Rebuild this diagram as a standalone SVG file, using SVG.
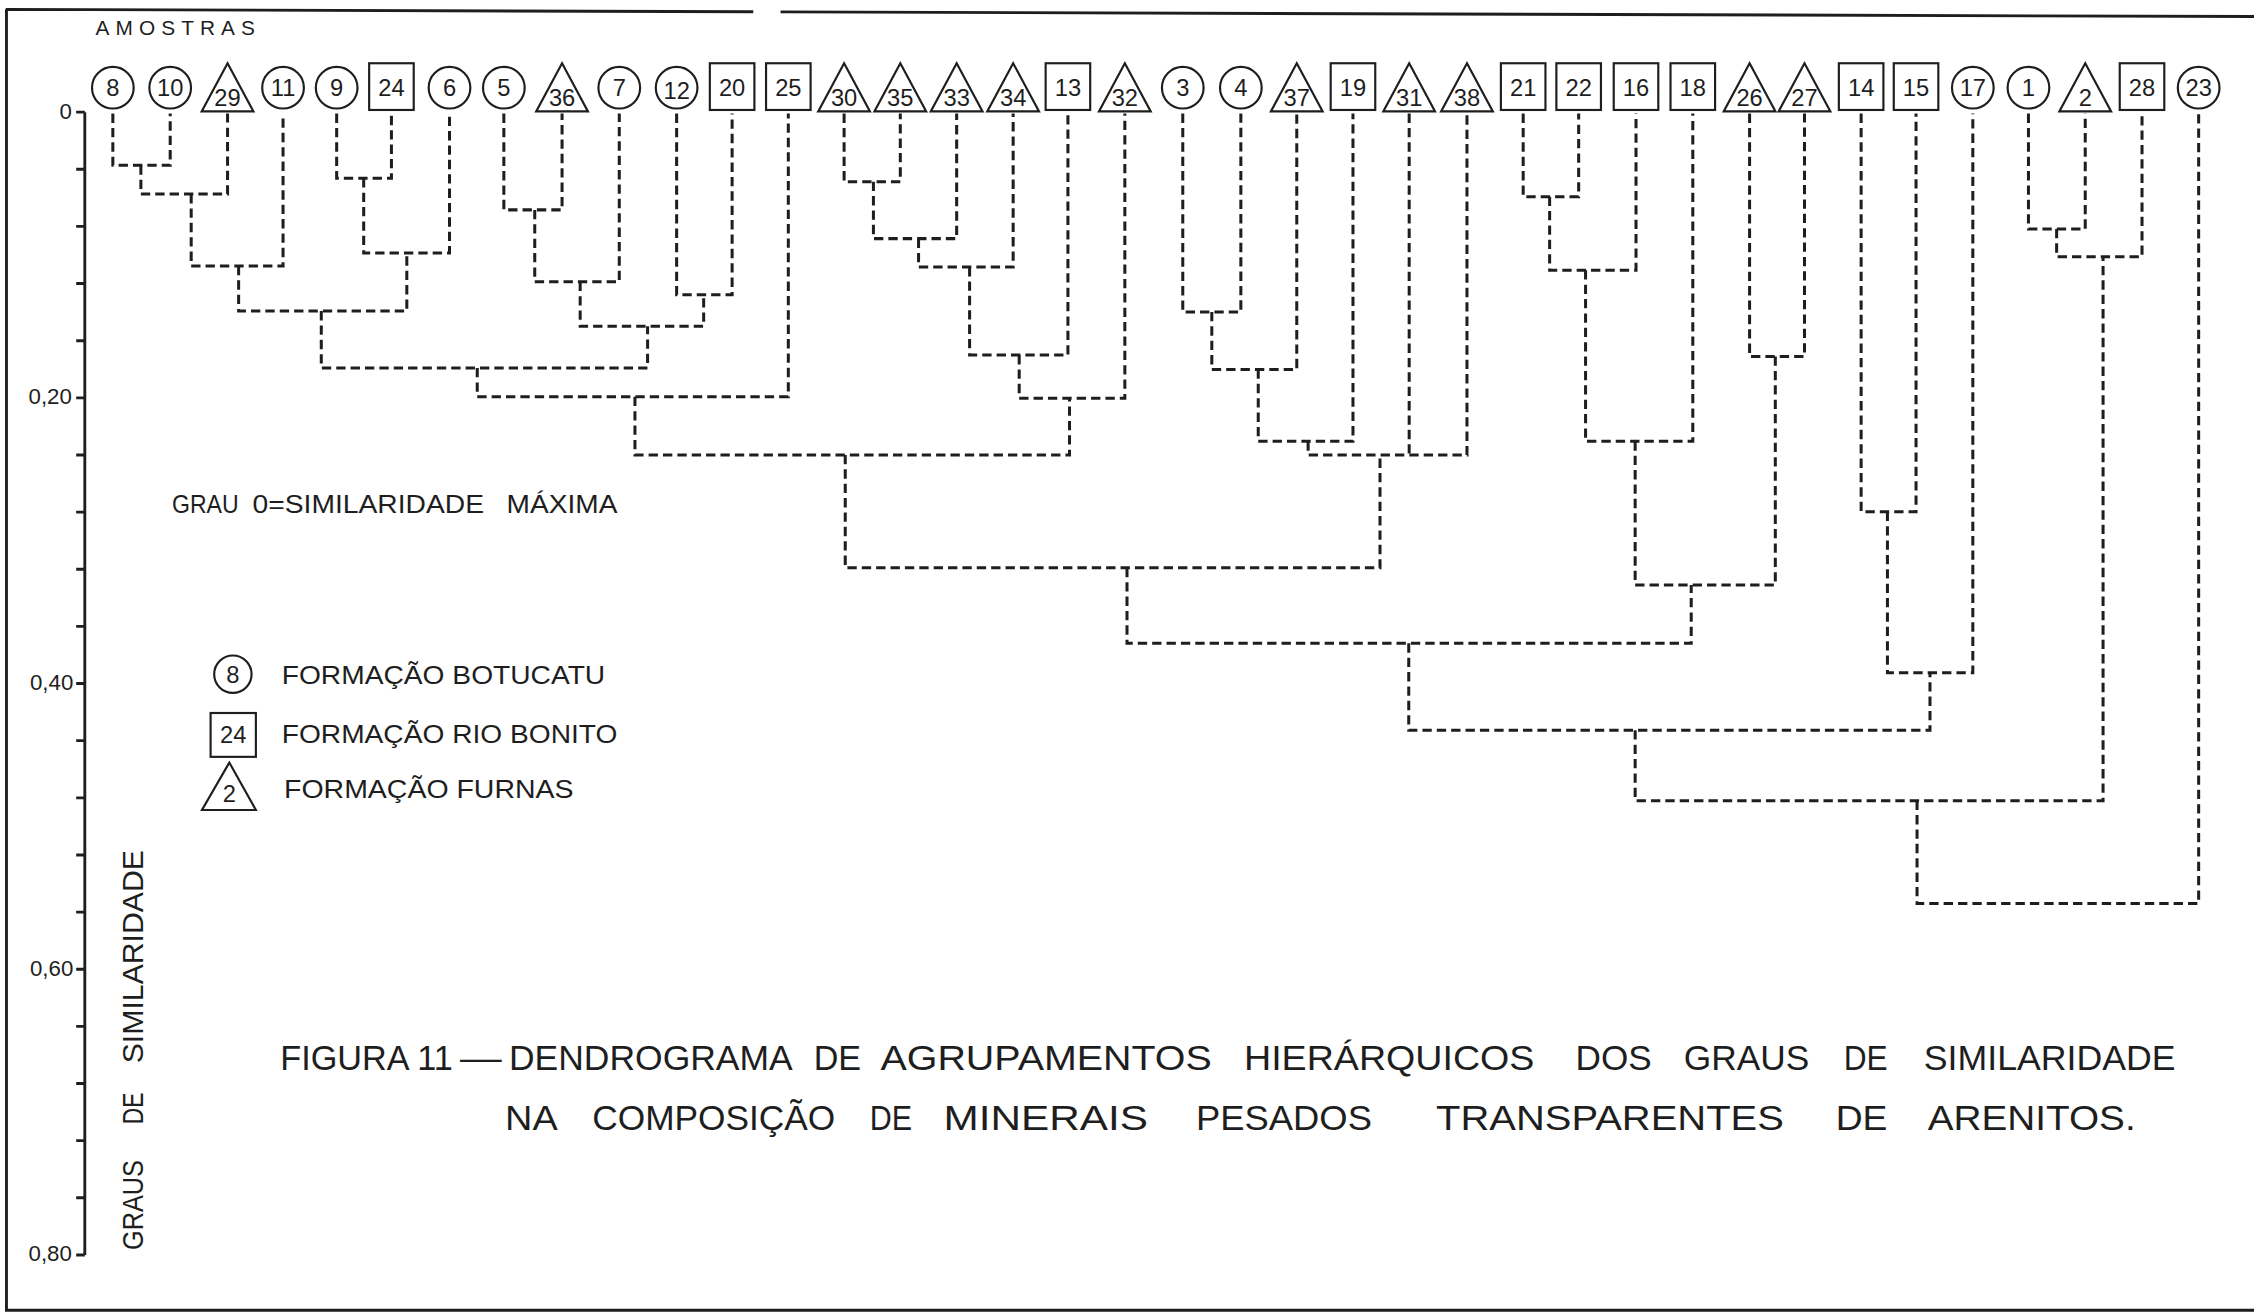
<svg xmlns="http://www.w3.org/2000/svg" xmlns:xlink="http://www.w3.org/1999/xlink" width="2254" height="1314" viewBox="0 0 2254 1314">
<style>
.d{font-family:"Liberation Sans",Arial,sans-serif;font-size:16.5px;text-anchor:middle;fill:#1e1e1e}
.lab{font-family:"Liberation Sans",Arial,sans-serif;fill:#1e1e1e}
.ln{fill:none;stroke:#1e1e1e;stroke-width:2.1;stroke-dasharray:6.5 3.5}
.solid{fill:none;stroke:#1e1e1e;stroke-width:2}
.shape{fill:#fff;stroke:#1e1e1e;stroke-width:1.5}
</style>
<defs>
<circle id="C" cx="0" cy="61" r="14.5" fill="#fff" stroke="#1e1e1e" stroke-width="1.5"/>
<rect id="S" x="-15.5" y="44" width="31" height="32.5" fill="#fff" stroke="#1e1e1e" stroke-width="1.5"/>
<path id="T" d="M0,44 L18,77.5 L-18,77.5 Z" fill="#fff" stroke="#1e1e1e" stroke-width="1.5" stroke-linejoin="miter"/>
</defs>
<rect x="0" y="0" width="2254" height="1314" fill="#fff"/>
<g transform="scale(1.4375)">
<g id="frame">
<path class="solid" d="M4,6.5 L524,8.2 M543,8.3 L1568,11.5 M4.5,6.5 V911.5 H1568" stroke-width="2.4"/>
</g>
<g id="axis">
<path class="solid" d="M59,78 V873 M53,78 H59 M53,117.75 H59 M53,157.5 H59 M53,197.25 H59 M53,237 H59 M53,276.75 H59 M53,316.5 H59 M53,356.25 H59 M53,396 H59 M53,435.75 H59 M53,475.5 H59 M53,515.25 H59 M53,555 H59 M53,594.75 H59 M53,634.5 H59 M53,674.25 H59 M53,714 H59 M53,753.75 H59 M53,793.5 H59 M53,833.25 H59 M53,873 H59"/>
<text class="lab" font-size="15.5" text-anchor="end" x="50" y="83">0</text>
<text class="lab" font-size="15.5" text-anchor="end" x="50" y="281">0,20</text>
<text class="lab" font-size="15.5" text-anchor="end" x="51" y="480">0,40</text>
<text class="lab" font-size="15.5" text-anchor="end" x="51" y="679">0,60</text>
<text class="lab" font-size="15.5" text-anchor="end" x="50" y="877">0,80</text>
<text class="lab" font-size="21" transform="translate(99.5,0) rotate(-90)"><tspan x="-869.6" y="0" textLength="62.6" lengthAdjust="spacingAndGlyphs">GRAUS</tspan> <tspan x="-782" y="0" textLength="22" lengthAdjust="spacingAndGlyphs">DE</tspan> <tspan x="-739.7" y="0" textLength="148.4" lengthAdjust="spacingAndGlyphs">SIMILARIDADE</tspan></text>
</g>
<text id="amostras" class="lab" font-size="14.5" x="66.4" y="24.3" textLength="111" lengthAdjust="spacing">AMOSTRAS</text>
<g id="connectors">
<path class="ln" d="M78.5,79 V115 H118.4 V79"/>
<path class="ln" d="M98,115 V135 H158.3 V79"/>
<path class="ln" d="M133,135 V185 H196.9 V79"/>
<path class="ln" d="M234.2,79 V124 H272.3 V79"/>
<path class="ln" d="M253,124 V176 H312.7 V79"/>
<path class="ln" d="M166,185 V216.4 H283 V176"/>
<path class="ln" d="M350.5,79 V146 H391 V79"/>
<path class="ln" d="M372,146 V196 H430.8 V79"/>
<path class="ln" d="M470.7,79 V205 H509.3 V79"/>
<path class="ln" d="M403.6,196 V227 H489.5 V205"/>
<path class="ln" d="M223.5,216.4 V256 H450.5 V227"/>
<path class="ln" d="M332,256 V276 H548.4 V79"/>
<path class="ln" d="M587.2,79 V126.4 H626.3 V79"/>
<path class="ln" d="M607.6,126.4 V166 H665.5 V79"/>
<path class="ln" d="M639,166 V185.8 H704.8 V79"/>
<path class="ln" d="M674.5,185.8 V247 H742.9 V79"/>
<path class="ln" d="M709,247 V277 H782.5 V79"/>
<path class="ln" d="M441.7,276 V316.5 H744 V277"/>
<path class="ln" d="M822.8,79 V217 H863.2 V79"/>
<path class="ln" d="M843,217 V257 H902.1 V79"/>
<path class="ln" d="M875.3,257 V307 H941.2 V79"/>
<path class="ln" d="M910,307 V316.6 H1020.5 V79"/>
<path class="ln" d="M980.3,79 V316.6"/>
<path class="ln" d="M588,316.5 V395 H960 V316.6"/>
<path class="ln" d="M1059.6,79 V136.8 H1098.2 V79"/>
<path class="ln" d="M1078,136.8 V188 H1138.1 V79"/>
<path class="ln" d="M1103,188 V307 H1177.6 V79"/>
<path class="ln" d="M1217.1,79 V248 H1255.3 V79"/>
<path class="ln" d="M1137.5,307 V407 H1235 V248"/>
<path class="ln" d="M784,395 V447.5 H1176.5 V407"/>
<path class="ln" d="M1294.7,79 V356 H1332.9 V79"/>
<path class="ln" d="M1313,356 V468 H1372.4 V79"/>
<path class="ln" d="M980,447.5 V508 H1342.6 V468"/>
<path class="ln" d="M1411.1,79 V159.3 H1450.6 V79"/>
<path class="ln" d="M1430.7,159.3 V178.6 H1490.1 V79"/>
<path class="ln" d="M1137.5,508 V557 H1463 V178.6"/>
<path class="ln" d="M1333.6,557 V628.5 H1529.5 V79"/>
</g>
<g id="nodes">
<g id="n8" transform="translate(78.5,0)"><use href="#C"/><text class="d" y="67">8</text></g>
<g id="n10" transform="translate(118.4,0)"><use href="#C"/><text class="d" y="67">10</text></g>
<g id="n29" transform="translate(158.3,0)"><use href="#T"/><text class="d" y="73.5">29</text></g>
<g id="n11" transform="translate(196.9,0)"><use href="#C"/><text class="d" y="67">11</text></g>
<g id="n9" transform="translate(234.2,0)"><use href="#C"/><text class="d" y="67">9</text></g>
<g id="n24" transform="translate(272.3,0)"><use href="#S"/><text class="d" y="66.5">24</text></g>
<g id="n6" transform="translate(312.7,0)"><use href="#C"/><text class="d" y="67">6</text></g>
<g id="n5" transform="translate(350.5,0)"><use href="#C"/><text class="d" y="67">5</text></g>
<g id="n36" transform="translate(391,0)"><use href="#T"/><text class="d" y="73.5">36</text></g>
<g id="n7" transform="translate(430.8,0)"><use href="#C"/><text class="d" y="67">7</text></g>
<g id="n12" transform="translate(470.7,0)"><use href="#C"/><text class="d" y="69">12</text></g>
<g id="n20" transform="translate(509.3,0)"><use href="#S"/><text class="d" y="66.5">20</text></g>
<g id="n25" transform="translate(548.4,0)"><use href="#S"/><text class="d" y="66.5">25</text></g>
<g id="n30" transform="translate(587.2,0)"><use href="#T"/><text class="d" y="73.5">30</text></g>
<g id="n35" transform="translate(626.3,0)"><use href="#T"/><text class="d" y="73.5">35</text></g>
<g id="n33" transform="translate(665.5,0)"><use href="#T"/><text class="d" y="73.5">33</text></g>
<g id="n34" transform="translate(704.8,0)"><use href="#T"/><text class="d" y="73.5">34</text></g>
<g id="n13" transform="translate(742.9,0)"><use href="#S"/><text class="d" y="66.5">13</text></g>
<g id="n32" transform="translate(782.5,0)"><use href="#T"/><text class="d" y="73.5">32</text></g>
<g id="n3" transform="translate(822.8,0)"><use href="#C"/><text class="d" y="67">3</text></g>
<g id="n4" transform="translate(863.2,0)"><use href="#C"/><text class="d" y="67">4</text></g>
<g id="n37" transform="translate(902.1,0)"><use href="#T"/><text class="d" y="73.5">37</text></g>
<g id="n19" transform="translate(941.2,0)"><use href="#S"/><text class="d" y="66.5">19</text></g>
<g id="n31" transform="translate(980.3,0)"><use href="#T"/><text class="d" y="73.5">31</text></g>
<g id="n38" transform="translate(1020.5,0)"><use href="#T"/><text class="d" y="73.5">38</text></g>
<g id="n21" transform="translate(1059.6,0)"><use href="#S"/><text class="d" y="66.5">21</text></g>
<g id="n22" transform="translate(1098.2,0)"><use href="#S"/><text class="d" y="66.5">22</text></g>
<g id="n16" transform="translate(1138.1,0)"><use href="#S"/><text class="d" y="66.5">16</text></g>
<g id="n18" transform="translate(1177.6,0)"><use href="#S"/><text class="d" y="66.5">18</text></g>
<g id="n26" transform="translate(1217.1,0)"><use href="#T"/><text class="d" y="73.5">26</text></g>
<g id="n27" transform="translate(1255.3,0)"><use href="#T"/><text class="d" y="73.5">27</text></g>
<g id="n14" transform="translate(1294.7,0)"><use href="#S"/><text class="d" y="66.5">14</text></g>
<g id="n15" transform="translate(1332.9,0)"><use href="#S"/><text class="d" y="66.5">15</text></g>
<g id="n17" transform="translate(1372.4,0)"><use href="#C"/><text class="d" y="67">17</text></g>
<g id="n1" transform="translate(1411.1,0)"><use href="#C"/><text class="d" y="67">1</text></g>
<g id="n2" transform="translate(1450.6,0)"><use href="#T"/><text class="d" y="73.5">2</text></g>
<g id="n28" transform="translate(1490.1,0)"><use href="#S"/><text class="d" y="66.5">28</text></g>
<g id="n23" transform="translate(1529.5,0)"><use href="#C"/><text class="d" y="67">23</text></g>
</g>
<text id="grau-note" class="lab" font-size="18" y="357"><tspan x="119.6" textLength="46.4" lengthAdjust="spacingAndGlyphs">GRAU</tspan> <tspan x="175.7" textLength="161" lengthAdjust="spacingAndGlyphs">0=SIMILARIDADE</tspan> <tspan x="352.4" textLength="77.1" lengthAdjust="spacingAndGlyphs">MÁXIMA</tspan></text>
<g id="legend">
<g id="leg-botucatu"><circle class="shape" cx="162" cy="469" r="13"/><text class="d" x="162" y="475" font-size="16">8</text>
<text class="lab" font-size="18" x="196" y="476" textLength="225" lengthAdjust="spacingAndGlyphs">FORMAÇÃO BOTUCATU</text></g>
<g id="leg-riobonito"><rect class="shape" x="146.5" y="496" width="31.5" height="30.5"/><text class="d" x="162.2" y="517" font-size="16">24</text>
<text class="lab" font-size="18" x="196" y="517" textLength="233.5" lengthAdjust="spacingAndGlyphs">FORMAÇÃO RIO BONITO</text></g>
<g id="leg-furnas"><path class="shape" d="M159.5,530.5 L178,563.5 L140.5,563.5 Z"/><text class="d" x="159.5" y="558" font-size="16">2</text>
<text class="lab" font-size="18" x="197.6" y="555" textLength="201.4" lengthAdjust="spacingAndGlyphs">FORMAÇÃO FURNAS</text></g>
</g>
<g id="caption">
<text class="lab" font-size="24" y="744"><tspan x="195" textLength="120" lengthAdjust="spacingAndGlyphs">FIGURA 11</tspan> <tspan x="320" textLength="29" lengthAdjust="spacingAndGlyphs">—</tspan> <tspan x="354" textLength="197.5" lengthAdjust="spacingAndGlyphs">DENDROGRAMA</tspan> <tspan x="566" textLength="33" lengthAdjust="spacingAndGlyphs">DE</tspan> <tspan x="612.5" textLength="230.5" lengthAdjust="spacingAndGlyphs">AGRUPAMENTOS</tspan> <tspan x="865.4" textLength="202" lengthAdjust="spacingAndGlyphs">HIERÁRQUICOS</tspan> <tspan x="1096" textLength="53" lengthAdjust="spacingAndGlyphs">DOS</tspan> <tspan x="1171.4" textLength="87.3" lengthAdjust="spacingAndGlyphs">GRAUS</tspan> <tspan x="1282.6" textLength="30.6" lengthAdjust="spacingAndGlyphs">DE</tspan> <tspan x="1338.3" textLength="175.2" lengthAdjust="spacingAndGlyphs">SIMILARIDADE</tspan></text>
<text class="lab" font-size="24.5" y="786"><tspan x="351.4" textLength="36.6" lengthAdjust="spacingAndGlyphs">NA</tspan> <tspan x="412" textLength="169" lengthAdjust="spacingAndGlyphs">COMPOSIÇÃO</tspan> <tspan x="605" textLength="29.5" lengthAdjust="spacingAndGlyphs">DE</tspan> <tspan x="656.4" textLength="142.2" lengthAdjust="spacingAndGlyphs">MINERAIS</tspan> <tspan x="832" textLength="122.4" lengthAdjust="spacingAndGlyphs">PESADOS</tspan> <tspan x="999" textLength="242" lengthAdjust="spacingAndGlyphs">TRANSPARENTES</tspan> <tspan x="1277" textLength="36" lengthAdjust="spacingAndGlyphs">DE</tspan> <tspan x="1341" textLength="144.7" lengthAdjust="spacingAndGlyphs">ARENITOS.</tspan></text>
</g>
</g>
</svg>
